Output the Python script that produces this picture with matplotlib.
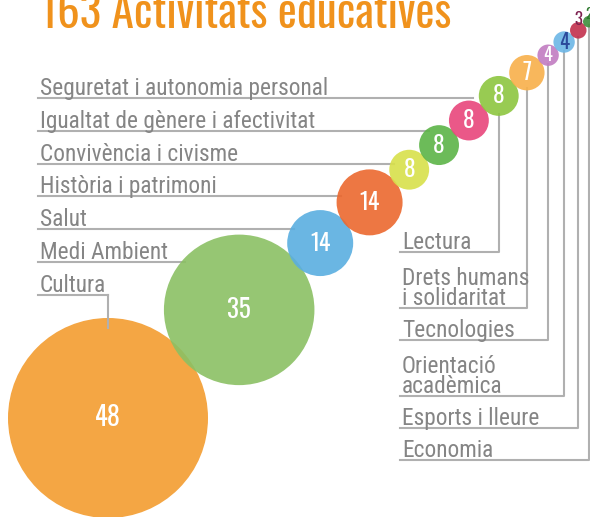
import matplotlib.pyplot as plt
from matplotlib.patches import Circle
import numpy as np

plt.rcParams['font.family'] = ['Roboto Condensed', 'DejaVu Sans']

# data
categories = ["Cultura", "Medi Ambient", "Salut", "Història i patrimoni",
              "Convivència i civisme", "Igualtat de gènere i afectivitat",
              "Seguretat i autonomia personal", "Lectura",
              "Drets humans\ni solidaritat", "Tecnologies",
              "Orientació\nacadèmica", "Esports i lleure", "Economia"]
values = [48, 35, 14, 14, 8, 8, 8, 8, 7, 4, 4, 3, 2]
n_left = 7  # first ones are labelled on the left, the rest on the right

# styles
colors = ["#f39c2f", "#8bc064", "#5aaee0", "#ec682e", "#d8e04a", "#5cb447",
          "#e8467b", "#8dc63f", "#f8b04a", "#c17cc1", "#6cb6e6", "#c2304c", "#3d8f3d"]
num_colors = ["white"] * 10 + ["#2b4a9b", "#7d2150", "#2f7a2f"]
num_sizes = [19, 18, 17, 17, 17, 17, 17, 17, 17, 13, 15, 12, 11]
title_color = "#f0921c"
label_color = "#858585"
line_color = "#b0b0b0"

fig = plt.figure(figsize=(5.90, 5.17), dpi=100)
ax = fig.add_axes([0, 0, 1, 1])
ax.set_xlim(0, 590)
ax.set_ylim(517, 0)
ax.axis("off")

# bubble layout: chain of circles along a diagonal
radii = 100 * (np.array(values) / max(values)) ** 0.9
angle = np.radians(39.5)
cx = [108.0]
cy = [418.0]
for i in range(1, len(values)):
    step = 0.97 * (radii[i - 1] + radii[i])
    cx.append(cx[-1] + step * np.cos(angle))
    cy.append(cy[-1] - step * np.sin(angle))

# left labels with connecting lines
for i in range(n_left):
    y = 98 + 32.8 * (n_left - 1 - i)
    ax.text(40, y - 3, categories[i], fontsize=16.8, color=label_color,
            ha="left", va="baseline")
    if i == 0:
        ax.plot([38, cx[i]], [y, y], color=line_color, lw=1.5, zorder=1)
        ax.plot([cx[i], cx[i]], [y, cy[i] - radii[i] + 10], color=line_color,
                lw=1.5, zorder=3)
    else:
        d = abs(y - cy[i])
        x_end = cx[i] - np.sqrt(max(radii[i] ** 2 - d ** 2, 0)) + 4
        ax.plot([38, x_end], [y, y], color=line_color, lw=1.5, zorder=1)

# right labels with connecting lines
y = 252
for k, i in enumerate(range(n_left, len(values))):
    nlines = categories[i].count("\n") + 1
    if k > 0:
        y += 32 + 24 * (nlines - 1)
    ax.text(402, y - 3, categories[i], fontsize=16.8, color=label_color,
            ha="left", va="baseline", linespacing=0.82)
    ax.plot([cx[i], cx[i], 400], [cy[i] + radii[i] - 2, y, y], color=line_color,
            lw=1.5, zorder=1)

# bubbles
for i, v in enumerate(values):
    ax.add_patch(Circle((cx[i], cy[i]), radii[i], facecolor=colors[i],
                        edgecolor="none", alpha=0.9, zorder=2))
    dy = 0
    if v <= 3:
        dy = -radii[i] * 1.3
    ax.text(cx[i], cy[i] + dy, str(v), color=num_colors[i], fontsize=num_sizes[i],
            family=["Oswald", "DejaVu Sans"], fontweight="bold",
            ha="center", va="center", zorder=4)

ax.text(40, 28, f"{sum(values)} Activitats educatives", color=title_color,
        fontsize=32.5, fontweight="bold", family=["Oswald", "DejaVu Sans"],
        ha="left", va="baseline")

fig.savefig("out.png", dpi=100)
